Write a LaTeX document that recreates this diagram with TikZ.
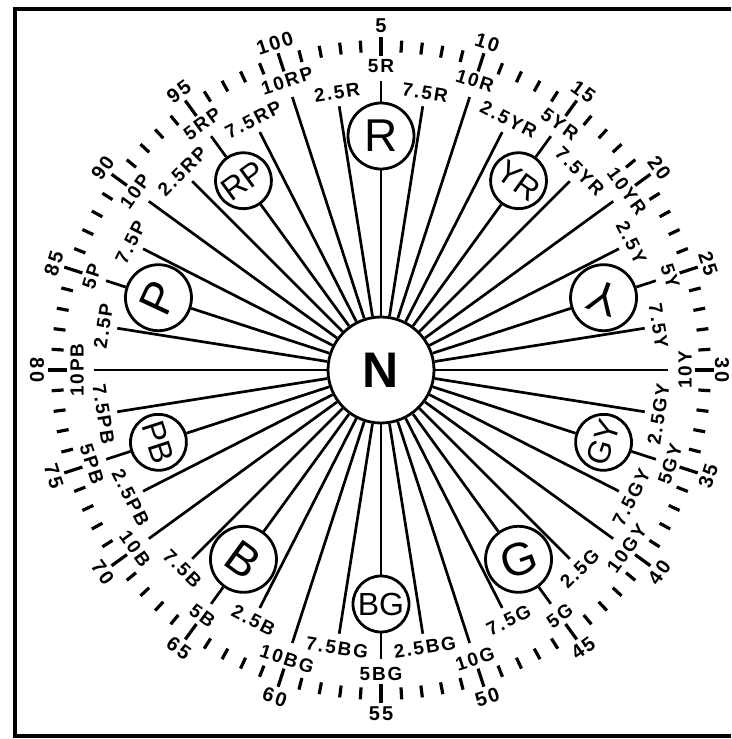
\documentclass[tikz,border=0pt]{standalone}
\usepackage{fontspec}
\setmainfont{Liberation Sans}
\newfontfamily\labfont[LetterSpace=10]{Liberation Sans}
\begin{document}
\begin{tikzpicture}[x=1pt,y=1pt,
  spoke/.style={line width=2.7pt},
  tickmark/.style={line width=3.2pt},
  hcirc/.style={circle,draw,line width=2.8pt,fill=white,inner sep=0pt},
  major/.style={hcirc,minimum size=66pt,font=\fontsize{46}{46}\selectfont},
  minor/.style={hcirc,minimum size=56pt,font=\fontsize{32}{32}\selectfont},
  hlab/.style={font=\labfont\bfseries\fontsize{19}{19}\selectfont,inner sep=0pt},
  numlab/.style={font=\labfont\bfseries\fontsize{20}{20}\selectfont,inner sep=0pt},
  frameline/.style={line width=4pt}
]
\useasboundingbox (0,0) rectangle (731,-739);
\draw[frameline] (731,-9) -- (15,-9) -- (15,-736) -- (731,-736);
\begin{scope}[shift={(381,-370)}]
  \node[circle,draw,line width=2.8pt,minimum size=106pt,inner sep=0pt,
        font=\bfseries\fontsize{50}{50}\selectfont] (N) at (0,0) {N};
  % 2.5 and 7.5 spokes
  \foreach \k in {1,3,...,39} {
    \coordinate (e\k) at ({90-9*\k}:267);
    \draw[spoke] (N) -- (e\k);
  }
  % 10 spokes
  \foreach \k in {2,6,...,38} {
    \coordinate (e\k) at ({90-9*\k}:287);
    \draw[spoke] (N) -- (e\k);
  }
  % principal hue circles
  \foreach \k/\txt/\rot in {0/R/0, 8/Y/160, 16/G/20, 24/B/-36, 32/P/65} {
    \node[major,rotate=\rot] (H\k) at ({90-9*\k}:234) {\txt};
    \coordinate (e\k) at ({90-9*\k}:289);
    \draw[spoke] (N) -- (H\k);
    \draw[spoke] (H\k) -- (e\k);
  }
  % intermediate hue circles
  \foreach \k/\txt/\rot in {4/YR/-36, 12/GY/72, 20/BG/0, 28/PB/-72, 36/RP/36} {
    \node[minor,rotate=\rot] (H\k) at ({90-9*\k}:234) {\txt};
    \coordinate (e\k) at ({90-9*\k}:289);
    \draw[spoke] (N) -- (H\k);
    \draw[spoke] (H\k) -- (e\k);
  }
  % outer hue labels (5 and 10)
  \foreach \k/\txt/\rot in {0/5R/0, 2/10R/-18, 4/5YR/-36, 6/10YR/-54, 8/5Y/-72,
      10/10Y/90, 12/5GY/72, 14/10GY/54, 16/5G/36, 18/10G/18, 20/5BG/0,
      22/10BG/-18, 24/5B/-36, 26/10B/-54, 28/5PB/-72, 30/10PB/90, 32/5P/72,
      34/10P/54, 36/5RP/36, 38/10RP/18} {
    \node[hlab,rotate=\rot] (l\k) at ({90-9*\k}:304) {\txt};
  }
  % inner hue labels (2.5 and 7.5)
  \foreach \k/\txt/\rot in {1/7.5R/-9, 3/2.5YR/-27, 5/7.5YR/-45, 7/2.5Y/-63,
      9/7.5Y/-81, 11/2.5GY/81, 13/7.5GY/63, 15/2.5G/45, 17/7.5G/27,
      19/2.5BG/9, 21/7.5BG/-9, 23/2.5B/-27, 25/7.5B/-45, 27/2.5PB/-63,
      29/7.5PB/-81, 31/2.5P/81, 33/7.5P/63, 35/2.5RP/45, 37/7.5RP/27,
      39/2.5R/9} {
    \node[hlab,rotate=\rot] (l\k) at ({90-9*\k}:281) {\txt};
  }
  % scale ticks
  \foreach \j in {0,...,19} {
    \draw[tickmark] ({90-18*\j}:314) -- ({90-18*\j}:333);
    \foreach \m in {1,2,3,4} {
      \draw[tickmark] ({90-18*\j-3.6*\m}:318) -- ({90-18*\j-3.6*\m}:330);
    }
  }
  % scale numbers
  \foreach \n/\rot in {5/0, 10/-18, 15/-36, 20/-54, 25/-72, 35/72,
      40/54, 45/36, 50/18, 55/0, 60/-18, 65/-36, 70/-54, 75/-72, 80/-90,
      85/72, 90/54, 95/36, 100/18} {
    \node[numlab,rotate=\rot] (n\n) at ({90-3.6*(\n-5)}:344) {\n};
  }
  \node[numlab,rotate=-90] (n30) at (0:341) {30};
\end{scope}
\end{tikzpicture}
\end{document}
